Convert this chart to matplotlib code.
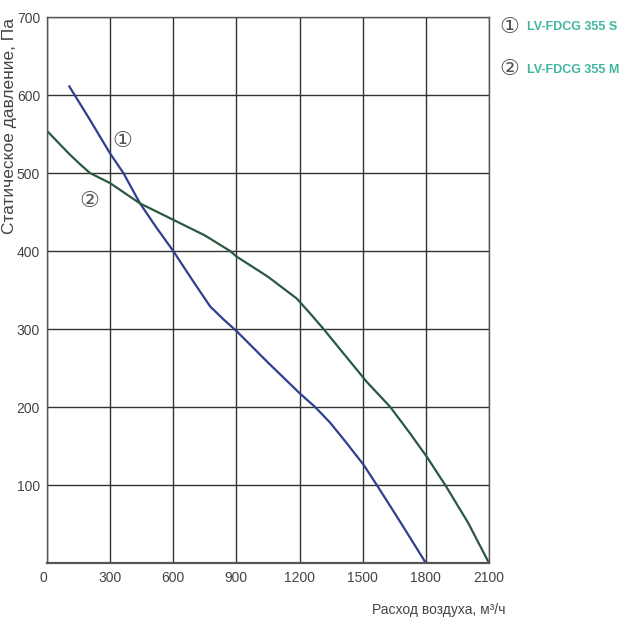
import matplotlib.pyplot as plt

plt.rcParams['font.family'] = ['Liberation Sans', 'DejaVu Sans']

# Kennlinien (Luftmenge m3/h, statischer Druck Pa)
s_flow = [106, 200, 300, 363, 442, 520, 600, 690, 775, 840, 902, 1050, 1203, 1274,
          1345, 1420, 1504, 1567, 1680, 1800]
s_pres = [611, 570, 525, 500, 461, 430, 400, 363, 329, 312, 297, 257, 217, 200,
          180, 155, 126, 100, 52, 0]

m_flow = [0, 50, 100, 150, 204, 300, 442, 600, 750, 870, 900, 1050, 1187, 1250,
          1314, 1420, 1520, 1631, 1720, 1805, 1892, 2000, 2100]
m_pres = [554, 540, 526, 513, 500, 487, 461, 440, 420, 400, 393, 367, 339, 320,
          300, 265, 232, 200, 168, 136, 100, 52, 0]

names = ['LV-FDCG 355 S', 'LV-FDCG 355 M']
marks = ['①', '②']
xticks = [0, 300, 600, 900, 1200, 1500, 1800, 2100]
yticks = [100, 200, 300, 400, 500, 600, 700]

fig = plt.figure(figsize=(6.3, 6.3), dpi=100)
ax = fig.add_axes([0.0746, 0.1063, 0.7016, 0.8667])

ax.plot(s_flow, s_pres, color='#2e3f8f', lw=1.6)
ax.plot(m_flow, m_pres, color='#2b5940', lw=1.6)

ax.set_xlim(0, 2100)
ax.set_ylim(0, 700)
ax.set_xticks(xticks)
ax.set_yticks(yticks)
ax.grid(True, color='#333333', lw=1.0)
for sp in ax.spines.values():
    sp.set_color('#555555')
    sp.set_linewidth(1.0)
ax.spines['bottom'].set_linewidth(1.6)
ax.tick_params(length=0, labelsize=10, labelcolor='#444444', pad=6)
ax.tick_params(axis='y', pad=5)
ax.get_xticklabels()[0].set_horizontalalignment('right')

# Nummern an den Kurven
ax.text(357, 541, marks[0], fontsize=16, color='#555555', ha='center', va='center')
ax.text(200, 464, marks[1], fontsize=16, color='#555555', ha='center', va='center')

fig.text(10 / 630, 1 - 18 / 630, 'Статическое давление, Па',
         rotation=90, ha='center', va='top', fontsize=12.5, color='#444444')
fig.text(505 / 630, 1 - 610 / 630, 'Расход воздуха, м³/ч',
         ha='right', va='center', fontsize=10, color='#444444')

# Legende rechts oben
for i, (mk, nm) in enumerate(zip(marks, names)):
    y = 0.957 - i * 0.068
    fig.text(509 / 630, y, mk, fontsize=16, color='#555555', ha='center', va='center')
    fig.text(527 / 630, y, nm, fontsize=9, color='#40b6a0', fontweight='bold',
             ha='left', va='center')

fig.savefig('out.png', dpi=100)
